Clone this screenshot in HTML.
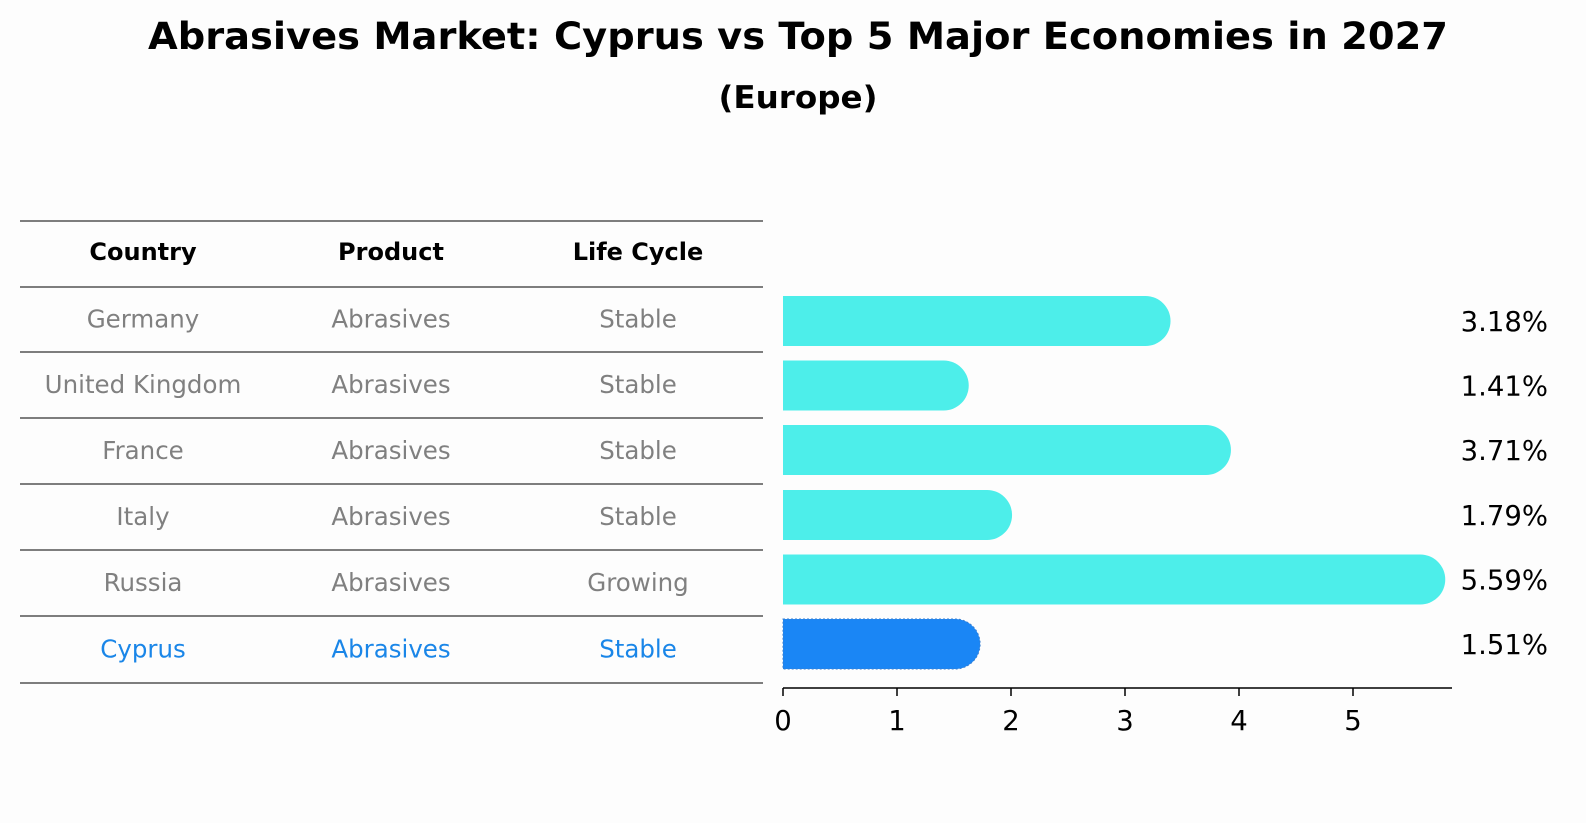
<!DOCTYPE html>
<html><head><meta charset="utf-8"><style>
html,body{margin:0;padding:0;background:#fdfdfd;overflow:hidden;width:1586px;height:823px;}
svg{display:block;}
svg text{font-family:"DejaVu Sans","Liberation Sans",sans-serif;}
</style></head><body>
<svg width="1586" height="823" xmlns="http://www.w3.org/2000/svg">
<rect width="1586" height="823" fill="#fdfdfd"/>
<text x="798" y="49" text-anchor="middle" font-size="37" font-weight="bold" textLength="1300" lengthAdjust="spacingAndGlyphs">Abrasives Market: Cyprus vs Top 5 Major Economies in 2027</text>
<text x="798" y="108" text-anchor="middle" font-size="31" font-weight="bold" textLength="159" lengthAdjust="spacingAndGlyphs">(Europe)</text>
<g id="table"></g>
<g id="bars"></g>
</svg>
<script>
const countries=["Germany","United Kingdom","France","Italy","Russia","Cyprus"];
const products=["Abrasives","Abrasives","Abrasives","Abrasives","Abrasives","Abrasives"];
const lifeCycles=["Stable","Stable","Stable","Stable","Growing","Stable"];
const values=[3.18,1.41,3.71,1.79,5.59,1.51];
const tickLabels=[0,1,2,3,4,5];
const NS="http://www.w3.org/2000/svg";
function mk(t,a,p){const e=document.createElementNS(NS,t);for(const k in a)e.setAttribute(k,a[k]);p.appendChild(e);return e;}
const tb=document.getElementById('table');
const lineYs=[221,287,352,418,484,550,616,683];
lineYs.forEach(y=>{const l=mk('line',{x1:20,x2:763,y1:y,y2:y,stroke:'#000','stroke-width':1},tb);

});
const colX=[143,391,638];
["Country","Product","Life Cycle"].forEach((h,i)=>{const t=mk('text',{x:colX[i],y:260,'text-anchor':'middle','font-size':24,'font-weight':'bold'},tb);t.textContent=h;

});
countries.forEach((c,r)=>{const y=(lineYs[r+1]+lineYs[r+2])/2+8;const col=r===countries.length-1?'#1a86e8':'#808080';
[c,products[r],lifeCycles[r]].forEach((v,i)=>{const t=mk('text',{x:colX[i],y:y,'text-anchor':'middle','font-size':24.5,fill:col},tb);t.textContent=v;

});});
const bg=document.getElementById('bars');
const x0=783,ppu=114;const xs=v=>x0+v*ppu;
const rowY=[321,385.5,450,515,579.5,644];const h=50,r=25;
values.forEach((v,i)=>{const cy=rowY[i];const xe=xs(v);const last=i===values.length-1;
const col=last?'#1a86f5':'#4deeea';
const p=mk('path',{d:`M${x0},${cy-h/2} L${xe},${cy-h/2} A${r},${r} 0 0 1 ${xe},${cy+h/2} L${x0},${cy+h/2} Z`,fill:col},bg);
if(last){p.setAttribute('stroke','#3a7fd0');p.setAttribute('stroke-dasharray','2,2');}


const t=mk('text',{x:1548,y:cy+10,'text-anchor':'end','font-size':27.5},bg);t.textContent=v.toFixed(2)+'%';

});
const ax=mk('line',{x1:x0,x2:1452,y1:688,y2:688,stroke:'#000','stroke-width':1.5},bg);


tickLabels.forEach(v=>{const tk=mk('line',{x1:xs(v),x2:xs(v),y1:688,y2:696,stroke:'#000','stroke-width':1.5},bg);


const t=mk('text',{x:xs(v),y:730,'text-anchor':'middle','font-size':27.5},bg);t.textContent=v;

});
</script>
</body></html>
